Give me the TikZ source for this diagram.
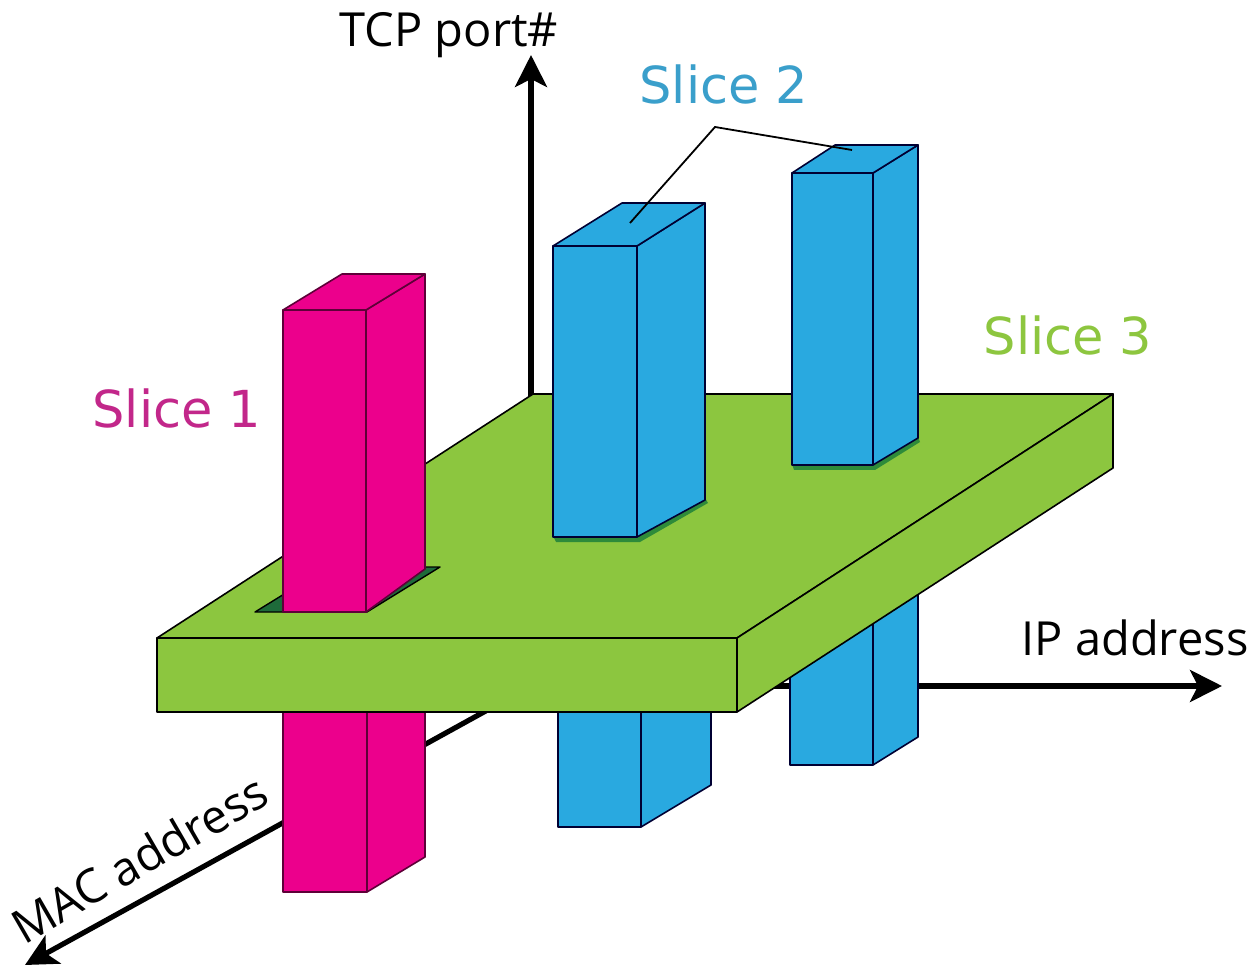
\documentclass[tikz,border=0pt]{standalone}
\usepackage{fontspec}
\newfontfamily\osans{Open Sans}
\newfontfamily\dvs{DejaVu Sans}
\usetikzlibrary{arrows.meta}
\definecolor{slabgreen}{HTML}{8CC63F}
\definecolor{holegreen}{HTML}{1E6B3A}
\definecolor{shadowgreen}{HTML}{2E8B3A}
\definecolor{pinkfill}{HTML}{EC008C}
\definecolor{bluefill}{HTML}{29A9E0}
\definecolor{sonecol}{HTML}{C2278A}
\definecolor{stwocol}{HTML}{3A9FCB}
\definecolor{sthreecol}{HTML}{8DC63F}
\tikzset{
  axisline/.style={line width=2.6pt, -{Stealth[length=16pt,width=16pt,inset=4pt]}},
  slabface/.style={fill=slabgreen, draw=black, line width=0.8pt, line join=round},
  pinkface/.style={fill=pinkfill, draw=black!60!pinkfill, line width=0.8pt, line join=round},
  blueface/.style={fill=bluefill, draw=black!80!blue, line width=0.8pt, line join=round},
  holeface/.style={fill=holegreen, draw=black, line width=0.7pt, line join=round},
  shadowface/.style={fill=shadowgreen, draw=none},
  callout/.style={draw=black, line width=0.9pt},
  axislabel/.style={font=\osans\fontsize{23.5}{28}\selectfont, text=black, inner sep=0pt},
  slicelabel/.style={font=\dvs\fontsize{25.5}{30}\selectfont, inner sep=0pt}
}
\begin{document}
\begin{tikzpicture}[x=0.5pt, y=-0.5pt]
\useasboundingbox (0,0) rectangle (1252,967);
\fill[white] (0,0) rectangle (1252,967);

% axes
\coordinate (O) at (531,686);
\coordinate (tcp) at (531,55);
\coordinate (ip) at (1222,686);
\coordinate (mac) at (25,965);
\draw[axisline] (O) -- (tcp);
\draw[axisline] (O) -- (ip);
\draw[axisline] (O) -- (mac);

% lower parts of pillars (below slab)
\draw[pinkface] (283,700) rectangle (367,892);
\draw[pinkface] (367,892) -- (425,857) -- (425,655) -- (367,690) -- cycle;
\draw[blueface] (558,700) rectangle (641,827);
\draw[blueface] (641,827) -- (711,785) -- (711,660) -- (641,700) -- cycle;
\draw[blueface] (790,615) rectangle (873,765);
\draw[blueface] (873,765) -- (918,737) -- (918,587) -- (873,615) -- cycle;

% slab (Slice 3)
\coordinate (s1) at (157,638);
\coordinate (s2) at (737,638);
\coordinate (s3) at (1113,394);
\coordinate (s4) at (533,394);
\coordinate (s5) at (737,712);
\coordinate (s6) at (157,712);
\coordinate (s7) at (1113,468);
\draw[slabface] (s1) -- (s2) -- (s3) -- (s4) -- cycle;
\draw[slabface] (s1) -- (s2) -- (s5) -- (s6) -- cycle;
\draw[slabface] (s2) -- (s3) -- (s7) -- (s5) -- cycle;

% hole for pink pillar
\draw[holeface] (255,612) -- (367,612) -- (440,567) -- (328,567) -- cycle;

% upper pink pillar (Slice 1)
\draw[pinkface] (283,310) rectangle (366,612);
\draw[pinkface] (366,612) -- (366,310) -- (425,274) -- (425,569) -- cycle;
\draw[pinkface] (283,310) -- (342,274) -- (425,274) -- (366,310) -- cycle;

% upper blue pillar A (Slice 2)
\fill[shadowface] (553,536) -- (637,536) -- (705,498) -- (708,503) -- (640,542) -- (556,542) -- cycle;
\draw[blueface] (553,246) rectangle (637,537);
\draw[blueface] (637,537) -- (705,500) -- (705,203) -- (637,246) -- cycle;
\draw[blueface] (553,246) -- (622,203) -- (705,203) -- (637,246) -- cycle;

% upper blue pillar B (Slice 2)
\fill[shadowface] (792,464) -- (873,464) -- (918,437) -- (920,442) -- (875,470) -- (794,470) -- cycle;
\draw[blueface] (792,173) rectangle (873,465);
\draw[blueface] (873,465) -- (918,438) -- (918,145) -- (873,173) -- cycle;
\draw[blueface] (792,173) -- (835,145) -- (918,145) -- (873,173) -- cycle;

% callout for Slice 2
\coordinate (ca) at (630,223);
\coordinate (cb) at (715,127);
\coordinate (cc) at (852,150);
\draw[callout] (ca) -- (cb) -- (cc);

% labels
\node[axislabel, anchor=base] (ltcp) at (449,47) {TCP port\#};
\node[axislabel, anchor=base] (lip) at (1135,655) {IP address};
\node[axislabel, anchor=base, rotate=30] (lmac) at (148,874) {MAC address};
\node[slicelabel, text=stwocol, anchor=base] (l2) at (724,104) {Slice 2};
\node[slicelabel, text=sthreecol, anchor=base] (l3) at (1068,355) {Slice 3};
\node[slicelabel, text=sonecol, anchor=base] (l1) at (177,428) {Slice 1};
\end{tikzpicture}
\end{document}
